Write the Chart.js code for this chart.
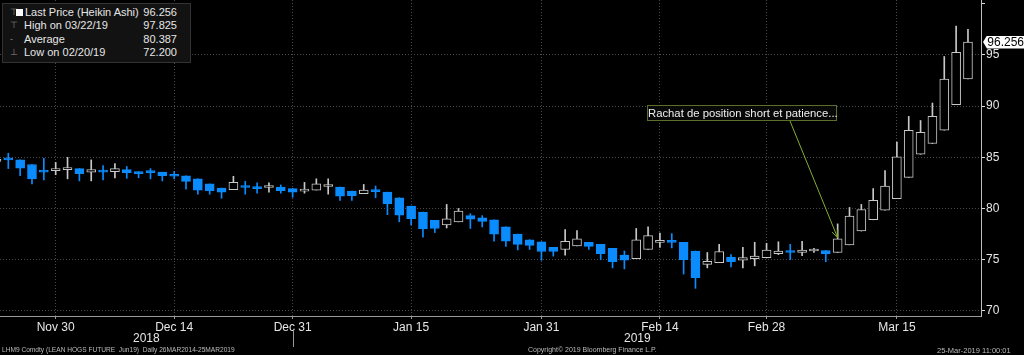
<!DOCTYPE html>
<html>
<head>
<meta charset="utf-8">
<script src="https://cdn.jsdelivr.net/npm/chart.js@4.4.1/dist/chart.umd.min.js"></script>
<style>
  html, body { margin: 0; padding: 0; background: #000; }
  #wrap { position: relative; width: 1024px; height: 355px; overflow: hidden;
          font-family: "Liberation Sans", Arial, sans-serif; color: #e6e6e6; }
  #c { position: absolute; left: 0; top: 0; }
  .legend { position: absolute; left: 2px; top: 3px; width: 187px; height: 58px;
            background: #121212; border: 1px solid #333; font-size: 11px; }
  .legend .row { position: absolute; left: 0; width: 187px; height: 13px; line-height: 13px; }
  .legend .ic { position: absolute; left: 7px; color: #888; font-size: 9px; }
  .legend .sq { position: absolute; left: 13px; top: 3px; width: 7px; height: 7px; background: #fff; }
  .legend .lbl { position: absolute; left: 21px; }
  .legend .val { position: absolute; right: 13px; }
  .note { position: absolute; left: 647px; top: 105px; width: 188px; height: 14px;
          border: 1px solid #5b6e2a; background: #080808; font-size: 11.3px; line-height: 14px;
          text-align: center; color: #eee; white-space: nowrap; }
  .tag { position: absolute; left: 983px; width: 41px; height: 13px; background: #fff; color: #000;
         font-size: 12px; line-height: 13px; text-align: right; padding-right: 0; box-sizing: border-box;
         clip-path: polygon(4px 0, 100% 0, 100% 100%, 4px 100%, 0 50%); }
  .year { position: absolute; top: 331px; font-size: 12px; color: #e6e6e6; }
  .foot { position: absolute; top: 346px; font-size: 7px; color: #bbb; white-space: nowrap; }
</style>
</head>
<body>
<div id="wrap">
  <canvas id="c" width="1024" height="355"></canvas>
  <div class="legend">
    <div class="row" style="top:2px"><span class="ic">&#8868;</span><span class="sq"></span><span class="lbl" style="left:22px">Last Price (Heikin Ashi)</span><span class="val" id="vLast"></span></div>
    <div class="row" style="top:15px"><span class="ic">&#8868;</span><span class="lbl">High on <span id="dHigh"></span></span><span class="val" id="vHigh"></span></div>
    <div class="row" style="top:29px"><span class="ic">-</span><span class="lbl">Average</span><span class="val" id="vAvg"></span></div>
    <div class="row" style="top:42px"><span class="ic">&#8869;</span><span class="lbl">Low on <span id="dLow"></span></span><span class="val" id="vLow"></span></div>
  </div>
  <div class="note">Rachat de position short et patience...</div>
  <div class="tag" id="tag"></div>
  <div class="year" style="left:133px">2018</div>
  <div class="year" style="left:624px">2019</div>
  <div class="foot" style="left:2px; font-size:6.6px">LHM9 Comdty (LEAN HOGS FUTURE&nbsp; Jun19)&nbsp; Daily 26MAR2014-25MAR2019</div>
  <div class="foot" style="left:528px">Copyright&copy; 2019 Bloomberg Finance L.P.</div>
  <div class="foot" style="left:937px; font-size:7.5px">25-Mar-2019 11:00:01</div>
</div>
<script>
// trading days shown (Heikin Ashi candles)
const dates = [
  '2018-11-23','2018-11-26','2018-11-27','2018-11-28','2018-11-29','2018-11-30',
  '2018-12-03','2018-12-04','2018-12-05','2018-12-06','2018-12-07',
  '2018-12-10','2018-12-11','2018-12-12','2018-12-13','2018-12-14',
  '2018-12-17','2018-12-18','2018-12-19','2018-12-20','2018-12-21',
  '2018-12-24','2018-12-26','2018-12-27','2018-12-28','2018-12-31',
  '2019-01-02','2019-01-03','2019-01-04',
  '2019-01-07','2019-01-08','2019-01-09','2019-01-10','2019-01-11',
  '2019-01-14','2019-01-15','2019-01-16','2019-01-17','2019-01-18',
  '2019-01-22','2019-01-23','2019-01-24','2019-01-25',
  '2019-01-28','2019-01-29','2019-01-30','2019-01-31','2019-02-01',
  '2019-02-04','2019-02-05','2019-02-06','2019-02-07','2019-02-08',
  '2019-02-11','2019-02-12','2019-02-13','2019-02-14','2019-02-15',
  '2019-02-19','2019-02-20','2019-02-21','2019-02-22',
  '2019-02-25','2019-02-26','2019-02-27','2019-02-28','2019-03-01',
  '2019-03-04','2019-03-05','2019-03-06','2019-03-07','2019-03-08',
  '2019-03-11','2019-03-12','2019-03-13','2019-03-14','2019-03-15',
  '2019-03-18','2019-03-19','2019-03-20','2019-03-21','2019-03-22',
  '2019-03-25'
];
const open = [
  84.6, 84.85, 84.75, 84.3, 83.65, 83.7, 83.8, 83.9, 83.55, 83.65,
  83.6, 83.8, 83.6, 83.6, 83.55, 83.25, 83.2, 82.9, 82.4, 82.0,
  81.85, 82.15, 82.05, 82.05, 82.1, 81.95, 81.7, 81.8, 82.15, 82.1,
  81.7, 81.45, 81.75, 81.6, 81.05, 80.25, 79.65, 78.85, 78.4, 78.7,
  79.3, 79.1, 78.9, 78.2, 77.5, 76.95, 76.75, 76.2, 76.0, 76.35,
  76.7, 76.5, 76.1, 75.45, 75.1, 76.0, 76.7, 76.8, 76.7, 75.85,
  74.55, 74.7, 75.25, 74.95, 75.1, 75.2, 75.6, 75.8, 75.7, 75.85,
  75.9, 75.7, 76.45, 77.8, 78.9, 79.85, 80.95, 83.05, 85.3, 86.35,
  87.65, 90.15, 92.65
];
const high = [
  85.0, 85.4, 84.75, 84.3, 84.9, 84.5, 85.0, 83.9, 84.75, 84.2,
  84.4, 84.1, 83.6, 83.9, 83.55, 83.6, 83.2, 82.9, 82.4, 82.0,
  83.15, 82.65, 82.5, 82.5, 82.3, 81.95, 82.55, 82.9, 82.9, 82.1,
  81.7, 82.35, 82.2, 81.6, 81.05, 80.25, 79.65, 78.85, 80.4, 80.0,
  79.5, 79.3, 78.9, 78.2, 77.5, 76.95, 76.75, 76.2, 77.95, 77.85,
  76.7, 76.5, 76.1, 75.85, 78.05, 78.2, 77.6, 77.55, 76.7, 75.85,
  75.7, 76.5, 75.5, 76.2, 76.7, 76.6, 76.75, 76.5, 76.8, 76.1,
  75.9, 78.5, 80.1, 80.4, 81.95, 83.7, 86.5, 89.0, 88.6, 90.3,
  94.85, 97.825, 97.5
];
const low = [
  84.5, 83.9, 83.2, 82.4, 82.8, 83.3, 82.9, 82.7, 82.7, 82.8,
  83.0, 82.95, 83.0, 82.9, 82.7, 82.9, 81.9, 81.4, 81.4, 81.0,
  81.85, 81.4, 81.5, 81.6, 81.5, 81.1, 81.5, 81.8, 81.4, 80.8,
  80.8, 81.45, 81.05, 79.4, 78.7, 78.4, 77.2, 77.65, 78.1, 78.7,
  78.05, 78.2, 76.8, 76.3, 75.95, 76.0, 74.95, 75.35, 75.45, 76.35,
  76.0, 75.0, 74.2, 74.1, 75.1, 76.0, 76.2, 76.15, 73.6, 72.2,
  74.2, 74.7, 74.3, 74.2, 74.4, 75.2, 75.5, 75.0, 75.4, 75.7,
  74.8, 75.7, 76.45, 77.8, 78.9, 79.85, 80.95, 83.05, 85.3, 86.35,
  87.65, 90.15, 92.65
];
const close = [
  84.8, 84.75, 83.95, 82.9, 83.55, 83.9, 84.0, 83.4, 83.8, 83.55,
  83.9, 83.5, 83.4, 83.5, 83.2, 83.15, 82.65, 81.8, 81.75, 81.6,
  82.55, 82.05, 81.95, 82.15, 81.75, 81.6, 81.9, 82.4, 82.25, 81.2,
  81.25, 81.8, 81.65, 80.45, 79.35, 79.0, 78.0, 78.05, 79.0, 79.75,
  78.95, 78.75, 77.5, 76.8, 76.5, 76.4, 75.8, 75.8, 76.8, 77.05,
  76.3, 75.6, 74.8, 74.95, 76.95, 77.35, 76.8, 76.7, 75.0, 73.25,
  74.85, 75.8, 74.8, 75.2, 75.35, 75.95, 75.85, 75.7, 75.95, 75.95,
  75.6, 77.05, 79.25, 79.9, 80.8, 82.2, 85.05, 87.65, 87.45, 89.0,
  92.65, 95.25, 96.256
];
const averagePrice = 80.387;
const tickDates = ['2018-11-30','2018-12-14','2018-12-31','2019-01-15','2019-01-31','2019-02-14','2019-02-28','2019-03-15'];
const tickLabels = ['Nov 30','Dec 14','Dec 31','Jan 15','Jan 31','Feb 14','Feb 28','Mar 15'];
const yTicks = [70, 75, 80, 85, 90, 95, 100];
const noteDate = '2019-03-08';
const yearBreakDate = '2018-12-31';

const BLUE = '#0a8cff';
const GREY = '#c8c8c8';

const idx = dates.map((d, i) => i);
const bear = idx.map(i => close[i] < open[i]);
const tickIdx = tickDates.map(d => dates.indexOf(d));

// legend values
const hiI = high.indexOf(Math.max(...high));
const loI = low.indexOf(Math.min(...low));
const fmtD = d => d.slice(5, 7) + '/' + d.slice(8, 10) + '/' + d.slice(2, 4);
document.getElementById('vLast').textContent = close[close.length - 1].toFixed(3);
document.getElementById('vHigh').textContent = high[hiI].toFixed(3);
document.getElementById('dHigh').textContent = fmtD(dates[hiI]);
document.getElementById('vAvg').textContent = averagePrice.toFixed(3);
document.getElementById('vLow').textContent = low[loI].toFixed(3);
document.getElementById('dLow').textContent = fmtD(dates[loI]);
document.getElementById('tag').textContent = close[close.length - 1].toFixed(3);

const extras = {
  id: 'extras',
  afterDraw(chart) {
    const ctx = chart.ctx;
    const xs = chart.scales.x, ys = chart.scales.y;
    // year separator
    const xb = Math.round(xs.getPixelForValue(dates.indexOf(yearBreakDate))) + 0.5;
    ctx.save();
    ctx.strokeStyle = '#999';
    ctx.lineWidth = 1;
    ctx.beginPath();
    ctx.moveTo(xb, 329);
    ctx.lineTo(xb, 347);
    ctx.stroke();
    // annotation arrow
    const ni = dates.indexOf(noteDate);
    const tx = xs.getPixelForValue(ni);
    const ty = ys.getPixelForValue(Math.max(open[ni], close[ni])) - 1;
    const sx = 790, sy = 121;
    ctx.strokeStyle = '#86ad35';
    ctx.beginPath();
    ctx.moveTo(sx, sy);
    ctx.lineTo(tx, ty);
    const a = Math.atan2(ty - sy, tx - sx);
    ctx.moveTo(tx - 8 * Math.cos(a - 0.4), ty - 8 * Math.sin(a - 0.4));
    ctx.lineTo(tx, ty);
    ctx.lineTo(tx - 8 * Math.cos(a + 0.4), ty - 8 * Math.sin(a + 0.4));
    ctx.stroke();
    ctx.restore();
    // last price tag
    const tag = document.getElementById('tag');
    tag.style.top = (ys.getPixelForValue(close[close.length - 1]) - 6.5) + 'px';
  }
};

Chart.defaults.font.family = "'Liberation Sans', Arial, sans-serif";
Chart.defaults.font.size = 12;
Chart.defaults.color = '#e6e6e6';

new Chart(document.getElementById('c'), {
  type: 'bar',
  data: {
    datasets: [
      {
        label: 'wicks',
        data: idx.map(i => ({ x: i, y: [low[i], high[i]] })),
        backgroundColor: idx.map(i => bear[i] ? BLUE : GREY),
        barThickness: 1,
        grouped: false,
        order: 2
      },
      {
        label: 'bodies',
        data: idx.map(i => ({ x: i, y: [open[i], close[i]] })),
        backgroundColor: idx.map(i => bear[i] ? BLUE : '#000'),
        borderColor: idx.map(i => bear[i] ? BLUE : GREY),
        borderWidth: 1,
        borderSkipped: false,
        barThickness: 9,
        minBarLength: 2,
        grouped: false,
        order: 1
      }
    ]
  },
  options: {
    responsive: false,
    animation: false,
    layout: { padding: 0 },
    plugins: { legend: { display: false }, tooltip: { enabled: false } },
    scales: {
      x: {
        type: 'linear',
        min: 0.3,
        max: 83.1,
        offset: false,
        grid: {
          offset: false,
          color: '#4a4a4a',
          tickColor: '#999',
          tickLength: 3
        },
        border: { color: '#9a9a9a', dash: [1, 2] },
        afterBuildTicks(scale) { scale.ticks = tickIdx.map(v => ({ value: v })); },
        ticks: {
          autoSkip: false,
          maxRotation: 0,
          padding: 1,
          callback: v => tickLabels[tickIdx.indexOf(v)]
        },
        afterFit(scale) { scale.height = 39; scale.paddingLeft = 0; scale.paddingRight = 0; }
      },
      y: {
        position: 'right',
        min: 69.5,
        max: 100.37,
        grid: {
          color: ctx => (ctx.tick && ctx.tick.value === 100) ? 'transparent' : '#4a4a4a',
          tickColor: '#ddd',
          tickLength: 4
        },
        border: { color: '#bfbfbf', dash: [1, 2] },
        afterBuildTicks(scale) { scale.ticks = yTicks.map(v => ({ value: v })); },
        ticks: {
          padding: 1,
          callback: v => v === 100 ? '' : String(v)
        },
        afterFit(scale) { scale.width = 43; scale.paddingTop = 0; scale.paddingBottom = 0; }
      }
    }
  },
  plugins: [extras]
});
</script>
</body>
</html>
